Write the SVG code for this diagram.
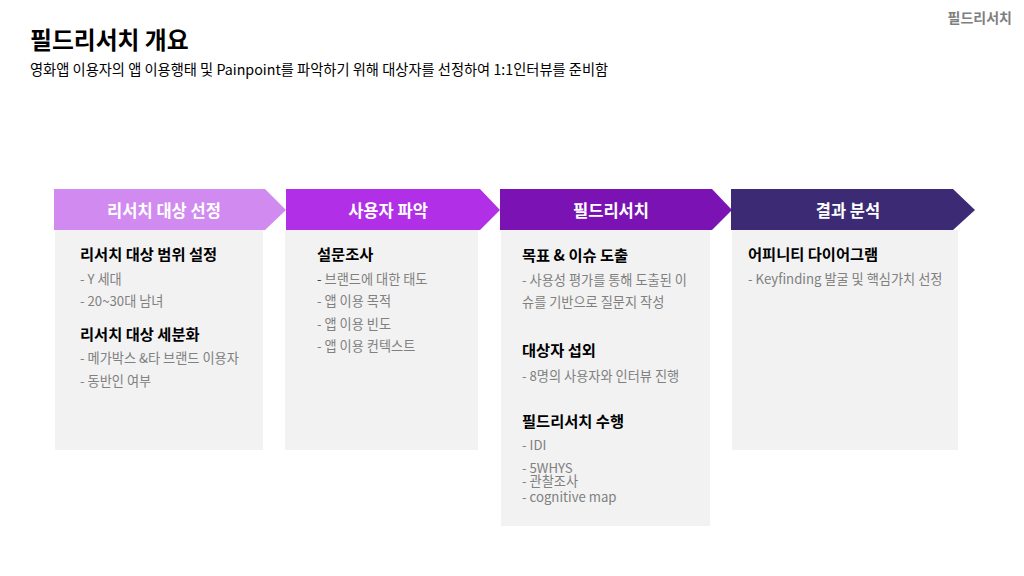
<svg xmlns="http://www.w3.org/2000/svg" width="1024" height="576" viewBox="0 0 1024 576">
<style>
text{font-family:"Noto Sans CJK KR","Noto Sans",sans-serif;}
.ttl{font-size:23.8px;font-weight:bold;fill:#000;}
.sub{font-size:14.25px;fill:#000;}
.tag{font-size:14px;font-weight:bold;fill:#7f7f7f;}
.lbl{font-size:16.5px;font-weight:600;fill:#fff;text-anchor:middle;}
.hd{font-size:15.3px;font-weight:bold;fill:#000;}
.it{font-size:13.2px;fill:#808080;}
.pnl{fill:#f2f2f2;}
</style>
<rect width="1024" height="576" fill="#fff"/>
<text class="tag" x="1012" y="23" text-anchor="end">필드리서치</text>
<text class="ttl" x="30" y="49">필드리서치 개요</text>
<text class="sub" x="30" y="75">영화앱 이용자의 앱 이용행태 및 Painpoint를 파악하기 위해 대상자를 선정하여 1:1인터뷰를 준비함</text>

<g id="step1">
<rect class="pnl" x="55" y="230" width="208" height="220"/>
<polygon points="54,189 265,189 286,210 265,230 54,230" fill="#d18bf0"/>
<text class="lbl" x="164" y="217">리서치 대상 선정</text>
<text class="hd" x="80" y="260">리서치 대상 범위 설정</text>
<text class="it" x="80" y="284">- Y 세대</text>
<text class="it" x="80" y="306">- 20~30대 남녀</text>
<text class="hd" x="80" y="340">리서치 대상 세분화</text>
<text class="it" x="80" y="363">- 메가박스 &amp;타 브랜드 이용자</text>
<text class="it" x="80" y="386">- 동반인 여부</text>
</g>

<g id="step2">
<rect class="pnl" x="285" y="230" width="193" height="220"/>
<polygon points="286,189 480,189 500,210 480,230 286,230" fill="#b12fe6"/>
<text class="lbl" x="388" y="217">사용자 파악</text>
<text class="hd" x="317" y="260">설문조사</text>
<text class="it" x="317" y="284"><tspan fill="#404040">- </tspan>브랜드에 대한 태도</text>
<text class="it" x="317" y="306">- 앱 이용 목적</text>
<text class="it" x="317" y="329">- 앱 이용 빈도</text>
<text class="it" x="317" y="351">- 앱 이용 컨텍스트</text>
</g>

<g id="step3">
<rect class="pnl" x="501" y="230" width="209" height="296"/>
<polygon points="500,189 712,189 732,210 712,230 500,230" fill="#7b12b3"/>
<text class="lbl" x="611" y="217">필드리서치</text>
<text class="hd" x="522" y="261">목표 &amp; 이슈 도출</text>
<text class="it" x="522" y="285">- 사용성 평가를 통해 도출된 이</text>
<text class="it" x="522" y="307">슈를 기반으로 질문지 작성</text>
<text class="hd" x="522" y="356">대상자 섭외</text>
<text class="it" x="522" y="381">- 8명의 사용자와 인터뷰 진행</text>
<text class="hd" x="522" y="427">필드리서치 수행</text>
<text class="it" x="522" y="450">- IDI</text>
<text class="it" x="522" y="473">- 5WHYS</text>
<text class="it" x="522" y="486">- 관찰조사</text>
<text class="it" x="522" y="502">- cognitive map</text>
</g>

<g id="step4">
<rect class="pnl" x="732" y="230" width="226" height="220"/>
<polygon points="731,189 953,189 975,210 953,230 731,230" fill="#3c2a74"/>
<text class="lbl" x="848" y="217">결과 분석</text>
<text class="hd" x="748" y="260">어피니티 다이어그램</text>
<text class="it" x="748" y="284">- Keyfinding 발굴 및 핵심가치 선정</text>
</g>

<g id="connectors"></g>
</svg>
